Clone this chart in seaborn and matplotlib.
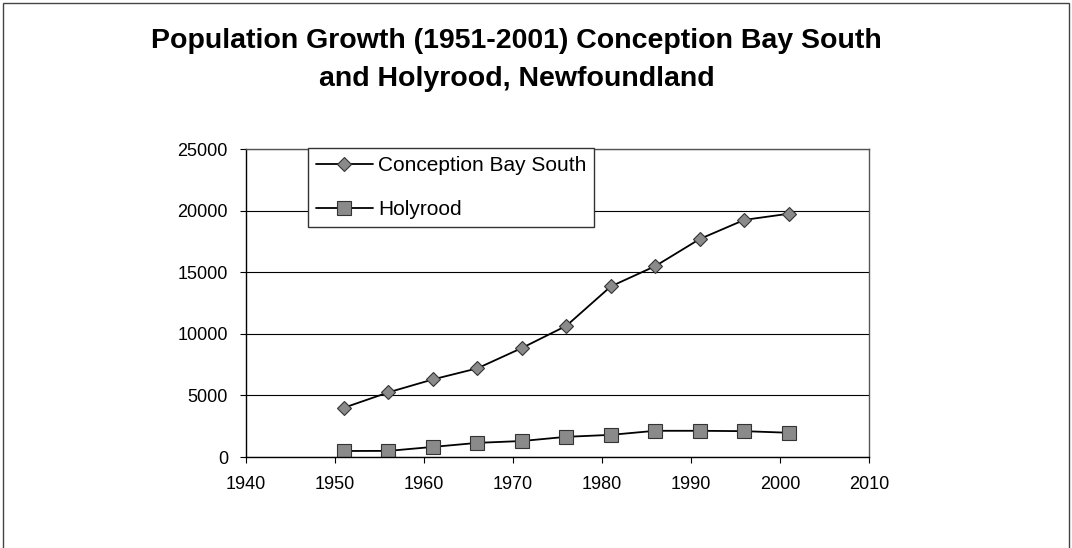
import pandas as pd
import numpy as np
import matplotlib.pyplot as plt
import seaborn as sns
from matplotlib.patches import Rectangle

# Census years and populations
years = [1951, 1956, 1961, 1966, 1971, 1976, 1981, 1986, 1991, 1996, 2001]
cbs_pop = [4000, 5250, 6300, 7200, 8850, 10650, 13850, 15500, 17700, 19250, 19750]
holyrood_pop = [490, 500, 820, 1150, 1300, 1640, 1800, 2130, 2130, 2100, 1970]

x_ticks = [1940, 1950, 1960, 1970, 1980, 1990, 2000, 2010]
y_ticks = [0, 5000, 10000, 15000, 20000, 25000]

df = pd.DataFrame({
    'Year': years * 2,
    'Population': cbs_pop + holyrood_pop,
    'Place': ['Conception Bay South'] * len(years) + ['Holyrood'] * len(years),
})

sns.set_style('white')
plt.rcParams['font.family'] = ['Liberation Sans', 'DejaVu Sans']
plt.rcParams['text.color'] = 'black'
plt.rcParams['xtick.color'] = 'black'
plt.rcParams['ytick.color'] = 'black'

fig = plt.figure(figsize=(10.72, 5.48), dpi=100)
ax = fig.add_axes([0.2295, 0.166, 0.581, 0.562])

sns.lineplot(data=df, x='Year', y='Population', hue='Place', style='Place',
             markers={'Conception Bay South': 'D', 'Holyrood': 's'},
             dashes=False, palette=['black', 'black'], ax=ax,
             linewidth=1.3, markersize=8, markerfacecolor='#8a8a8a',
             markeredgecolor='#333333', markeredgewidth=0.8)

# bigger squares for Holyrood like the original
for line in ax.lines:
    if line.get_marker() == 's':
        line.set_markersize(9.5)
    elif line.get_marker() == 'D':
        line.set_markersize(7)

ax.set_xlim(1940, 2010)
ax.set_ylim(0, 25000)
ax.set_xticks(x_ticks)
ax.set_yticks(y_ticks)
ax.tick_params(axis='both', labelsize=13, length=4, direction='out',
               color='black', width=0.8, bottom=True, left=True)
ax.tick_params(axis='x', pad=10)
ax.tick_params(axis='y', pad=9)
ax.set_xlabel('')
ax.set_ylabel('')
ax.yaxis.grid(True, color='black', linewidth=0.8)
ax.set_axisbelow(True)
for side in ['left', 'bottom']:
    ax.spines[side].set_color('black')
    ax.spines[side].set_linewidth(1.0)
for side in ['top', 'right']:
    ax.spines[side].set_color('#555555')
    ax.spines[side].set_linewidth(1.0)

leg = ax.legend(loc='upper left', bbox_to_anchor=(0.0995, 1.004), fontsize=15,
                frameon=True, fancybox=False, handlelength=2.7,
                borderpad=0.4, labelspacing=1.2, handletextpad=0.25,
                borderaxespad=0)
leg.get_frame().set_edgecolor('#333333')
leg.get_frame().set_linewidth(1.0)
leg.get_frame().set_alpha(1)

fig.text(0.482, 0.8905, 'Population Growth (1951-2001) Conception Bay South\nand Holyrood, Newfoundland',
         ha='center', va='center', fontsize=20.5, fontweight='bold',
         linespacing=1.6)

# outer chart border
fig.patches.append(Rectangle((0.003, -0.01), 0.994, 1.004, transform=fig.transFigure,
                             fill=False, edgecolor='#444444', linewidth=1.0))

fig.savefig('out.png', dpi=100)
